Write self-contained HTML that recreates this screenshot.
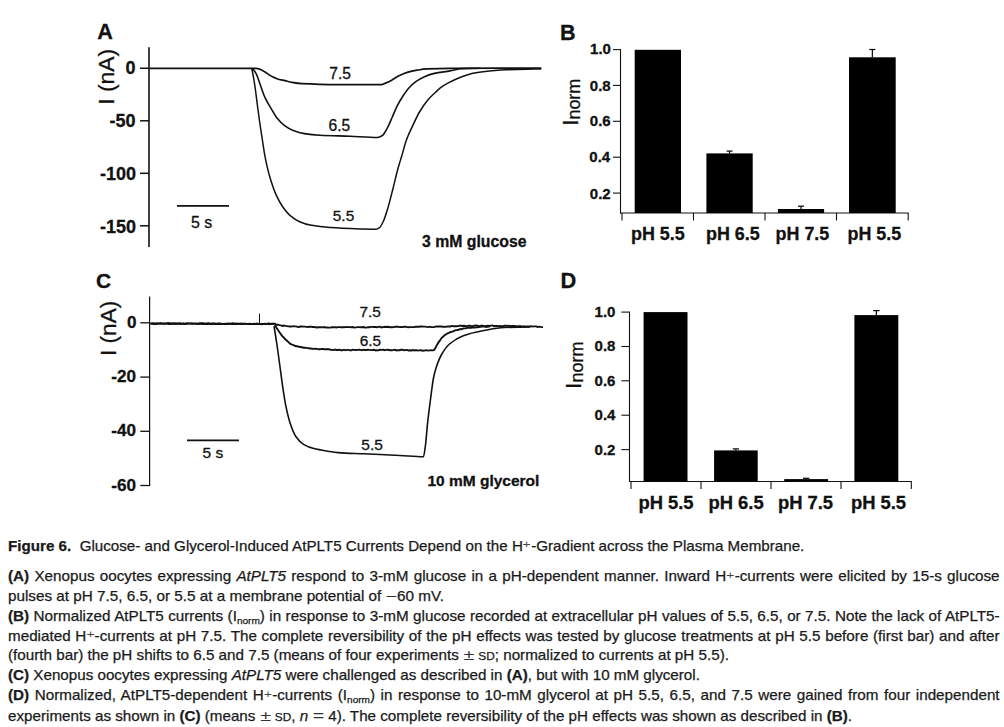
<!DOCTYPE html>
<html><head><meta charset="utf-8"><style>
html,body{margin:0;padding:0;background:#fff;}
body{width:1004px;height:727px;overflow:hidden;position:relative;font-family:"Liberation Sans",sans-serif;}
svg{position:absolute;left:0;top:0;}
svg text{font-family:"Liberation Sans",sans-serif;fill:#111;stroke:#111;stroke-width:0.3px;}
.ln{position:absolute;left:8.40px;font-size:14.40px;line-height:20px;height:20px;white-space:nowrap;color:#1a1a1a;transform-origin:0 0;-webkit-text-stroke:0.25px #1a1a1a;}
.ln.j{text-align:justify;text-align-last:justify;white-space:normal;}
.ln b{font-weight:bold;}
sup{font-size:70%;line-height:0;vertical-align:0;position:relative;top:-0.2em;display:inline-block;transform:scaleX(1.3);margin:0 1.2px 0 0.8px;-webkit-text-stroke:0;color:#444;}
sub{font-size:66%;line-height:0;vertical-align:0;position:relative;top:0.3em;}
.sc{font-size:78%;text-transform:uppercase;}
.m{display:inline-block;transform:scaleX(1.3);margin:0 1.25px;-webkit-text-stroke:0;color:#333;}
</style></head><body>
<svg width="1004" height="727" viewBox="0 0 1004 727">
<line x1="149.00" y1="47.30" x2="149.00" y2="247.00" stroke="#111" stroke-width="1.60"/>
<line x1="140.00" y1="68.25" x2="149.00" y2="68.25" stroke="#111" stroke-width="1.50"/>
<line x1="140.00" y1="120.80" x2="149.00" y2="120.80" stroke="#111" stroke-width="1.50"/>
<line x1="140.00" y1="173.30" x2="149.00" y2="173.30" stroke="#111" stroke-width="1.50"/>
<line x1="140.00" y1="225.80" x2="149.00" y2="225.80" stroke="#111" stroke-width="1.50"/>
<path d="M149.50 68.30 C183.67 68.30 217.83 68.30 252.00 68.30 C253.40 68.30 254.80 68.34 256.20 68.40 C256.97 68.43 257.73 68.62 258.50 68.80 C259.33 68.99 260.17 69.34 261.00 69.70 C262.33 70.28 263.67 71.17 265.00 72.00 C266.33 72.83 267.67 73.85 269.00 74.70 C270.33 75.55 271.67 76.46 273.00 77.10 C274.33 77.74 275.67 78.28 277.00 78.70 C279.67 79.54 282.33 80.04 285.00 80.70 C287.33 81.27 289.67 82.00 292.00 82.40 C295.33 82.97 298.67 83.51 302.00 83.70 C308.00 84.04 314.00 84.20 320.00 84.30 C330.00 84.46 340.00 84.60 350.00 84.60 C360.37 84.60 370.73 84.60 381.10 84.60 C382.77 84.60 384.43 83.57 386.10 82.90 C388.17 82.07 390.23 80.92 392.30 79.80 C394.37 78.68 396.43 77.14 398.50 76.10 C401.40 74.65 404.30 73.25 407.20 72.40 C410.50 71.43 413.80 70.74 417.10 70.20 C420.40 69.66 423.70 69.06 427.00 68.90 C434.67 68.53 442.33 68.32 450.00 68.30 C480.43 68.22 510.87 68.20 541.30 68.20" fill="none" stroke="#111" stroke-width="1.7"/>
<path d="M252.40 68.60 C253.63 69.45 254.87 71.39 256.10 73.60 C257.33 75.81 258.57 80.17 259.80 83.50 C261.47 87.99 263.13 93.46 264.80 97.10 C266.87 101.62 268.93 104.80 271.00 108.30 C273.07 111.80 275.13 115.64 277.20 118.20 C279.67 121.25 282.13 123.80 284.60 125.60 C287.47 127.70 290.33 129.42 293.20 130.50 C296.93 131.91 300.67 133.03 304.40 133.60 C309.60 134.40 314.80 134.90 320.00 135.20 C330.00 135.77 340.00 135.90 350.00 136.30 C359.13 136.67 368.27 137.50 377.40 137.50 C379.07 137.50 380.73 136.56 382.40 135.50 C384.03 134.46 385.67 131.03 387.30 128.10 C388.97 125.11 390.63 120.75 392.30 117.00 C393.93 113.32 395.57 109.01 397.20 105.80 C398.87 102.53 400.53 99.79 402.20 97.20 C404.27 93.99 406.33 90.81 408.40 88.50 C410.87 85.74 413.33 83.46 415.80 81.70 C418.70 79.64 421.60 77.93 424.50 76.70 C427.80 75.30 431.10 74.13 434.40 73.40 C439.60 72.24 444.80 71.82 450.00 70.90 C453.97 70.20 457.93 68.73 461.90 68.60 C467.93 68.40 473.97 68.30 480.00 68.30" fill="none" stroke="#111" stroke-width="1.6"/>
<path d="M251.80 68.60 C252.83 73.18 253.87 79.24 254.90 86.00 C255.70 91.23 256.50 98.46 257.30 104.50 C258.13 110.79 258.97 117.21 259.80 123.00 C260.67 129.02 261.53 134.33 262.40 140.00 C263.07 144.36 263.73 149.30 264.40 153.10 C265.27 158.04 266.13 162.38 267.00 166.10 C268.30 171.68 269.60 176.36 270.90 180.50 C272.63 186.02 274.37 191.10 276.10 194.90 C278.30 199.72 280.50 203.58 282.70 206.70 C285.30 210.39 287.90 213.63 290.50 215.80 C293.57 218.36 296.63 220.39 299.70 221.70 C303.17 223.18 306.63 224.33 310.10 225.00 C316.73 226.28 323.37 227.15 330.00 227.60 C340.00 228.27 350.00 228.59 360.00 228.90 C365.23 229.06 370.47 229.30 375.70 229.30 C377.00 229.30 378.30 228.50 379.60 227.60 C380.90 226.70 382.20 223.78 383.50 221.00 C384.83 218.14 386.17 213.67 387.50 209.30 C389.23 203.62 390.97 196.44 392.70 189.70 C394.43 182.96 396.17 175.12 397.90 168.80 C399.20 164.06 400.50 160.10 401.80 155.70 C403.33 150.51 404.87 144.23 406.40 140.00 C408.70 133.66 411.00 129.28 413.30 124.40 C415.37 120.02 417.43 115.53 419.50 112.00 C422.00 107.73 424.50 103.92 427.00 100.90 C429.87 97.44 432.73 94.97 435.60 92.20 C437.07 90.78 438.53 89.21 440.00 88.10 C442.93 85.88 445.87 84.27 448.80 82.70 C451.90 81.04 455.00 79.54 458.10 78.30 C463.03 76.33 467.97 74.31 472.90 73.30 C478.37 72.18 483.83 71.40 489.30 70.90 C494.77 70.40 500.23 70.02 505.70 69.80 C513.00 69.51 520.30 69.34 527.60 69.20 C532.17 69.12 536.73 69.04 541.30 69.00" fill="none" stroke="#111" stroke-width="1.5"/>
<line x1="177.00" y1="205.90" x2="229.00" y2="205.90" stroke="#111" stroke-width="1.90"/>
<line x1="620.50" y1="49.10" x2="620.50" y2="213.50" stroke="#111" stroke-width="1.10"/>
<line x1="613.00" y1="49.60" x2="620.50" y2="49.60" stroke="#111" stroke-width="1.10"/>
<line x1="613.00" y1="85.40" x2="620.50" y2="85.40" stroke="#111" stroke-width="1.10"/>
<line x1="613.00" y1="121.30" x2="620.50" y2="121.30" stroke="#111" stroke-width="1.10"/>
<line x1="613.00" y1="157.20" x2="620.50" y2="157.20" stroke="#111" stroke-width="1.10"/>
<line x1="613.00" y1="193.10" x2="620.50" y2="193.10" stroke="#111" stroke-width="1.10"/>
<line x1="620.00" y1="213.00" x2="908.70" y2="213.00" stroke="#111" stroke-width="1.10"/>
<line x1="622.00" y1="213.00" x2="622.00" y2="220.50" stroke="#111" stroke-width="1.10"/>
<line x1="693.50" y1="213.00" x2="693.50" y2="220.50" stroke="#111" stroke-width="1.10"/>
<line x1="765.00" y1="213.00" x2="765.00" y2="220.50" stroke="#111" stroke-width="1.10"/>
<line x1="836.50" y1="213.00" x2="836.50" y2="220.50" stroke="#111" stroke-width="1.10"/>
<line x1="908.20" y1="213.00" x2="908.20" y2="220.50" stroke="#111" stroke-width="1.10"/>
<rect x="634.70" y="49.80" width="46.30" height="163.20" fill="#000"/>
<rect x="706.40" y="153.40" width="46.30" height="59.60" fill="#000"/>
<line x1="729.55" y1="151.10" x2="729.55" y2="153.40" stroke="#000" stroke-width="1.20"/>
<line x1="726.55" y1="151.10" x2="732.55" y2="151.10" stroke="#000" stroke-width="1.20"/>
<rect x="777.90" y="209.00" width="46.20" height="4.00" fill="#000"/>
<line x1="801.00" y1="206.20" x2="801.00" y2="209.00" stroke="#000" stroke-width="1.20"/>
<line x1="798.00" y1="206.20" x2="804.00" y2="206.20" stroke="#000" stroke-width="1.20"/>
<rect x="849.00" y="57.30" width="46.70" height="155.70" fill="#000"/>
<line x1="872.35" y1="49.50" x2="872.35" y2="57.30" stroke="#000" stroke-width="1.20"/>
<line x1="869.35" y1="49.50" x2="875.35" y2="49.50" stroke="#000" stroke-width="1.20"/>
<line x1="149.60" y1="296.40" x2="149.60" y2="486.00" stroke="#111" stroke-width="1.20"/>
<line x1="140.30" y1="322.80" x2="149.60" y2="322.80" stroke="#111" stroke-width="1.30"/>
<line x1="140.30" y1="377.10" x2="149.60" y2="377.10" stroke="#111" stroke-width="1.30"/>
<line x1="140.30" y1="431.30" x2="149.60" y2="431.30" stroke="#111" stroke-width="1.30"/>
<line x1="140.30" y1="485.50" x2="149.60" y2="485.50" stroke="#111" stroke-width="1.30"/>
<path d="M150.5 323.6 L152.0 323.5 L153.5 323.4 L155.0 323.7 L156.5 323.3 L158.0 323.6 L159.5 323.5 L161.0 323.3 L162.5 323.6 L164.0 323.3 L165.5 323.6 L167.0 323.3 L168.5 323.3 L170.0 323.6 L171.5 323.8 L173.0 323.3 L174.5 323.4 L176.0 323.7 L177.5 323.9 L179.0 323.7 L180.5 323.5 L182.0 323.9 L183.5 323.3 L185.0 323.9 L186.5 323.5 L188.0 323.4 L189.5 323.4 L191.0 323.5 L192.5 323.8 L194.0 323.4 L195.5 323.7 L197.0 323.7 L198.5 323.5 L200.0 323.7 L201.5 323.3 L203.0 323.3 L204.5 323.4 L206.0 323.8 L207.5 323.6 L209.0 323.5 L210.5 323.7 L212.0 323.6 L213.5 323.5 L215.0 323.9 L216.5 323.8 L218.0 323.5 L219.5 323.7 L221.0 323.7 L222.5 324.0 L224.0 323.9 L225.5 323.6 L227.0 324.0 L228.5 323.4 L230.0 323.7 L231.5 323.9 L233.0 323.5 L234.5 323.7 L236.0 323.4 L237.5 323.9 L239.0 323.9 L240.5 323.8 L242.0 324.0 L243.5 323.7 L245.0 323.9 L246.5 323.9 L248.0 323.9 L249.5 323.8 L251.0 324.1 L252.5 324.1 L254.0 323.8 L255.5 324.0 L257.0 323.6 L258.5 324.0 L260.0 324.0 L261.5 324.2 L263.0 324.1 L264.5 323.8 L266.0 323.9 L267.5 324.1 L269.0 323.6 L270.5 323.9 L272.0 323.7 L273.5 323.7 L275.0 323.8 L276.5 324.7 L278.0 324.7 L279.5 325.1 L281.0 325.4 L282.5 325.9 L284.0 325.5 L285.5 325.9 L287.0 326.1 L288.5 326.4 L290.0 326.5 L291.5 326.6 L293.0 326.2 L294.5 326.4 L296.0 326.4 L297.5 326.9 L299.0 327.0 L300.5 326.4 L302.0 326.5 L303.5 326.6 L305.0 326.6 L306.5 326.9 L308.0 327.0 L309.5 326.8 L311.0 326.6 L312.5 327.0 L314.0 327.0 L315.5 327.2 L317.0 327.5 L318.5 327.3 L320.0 327.2 L321.5 327.3 L323.0 327.4 L324.5 327.0 L326.0 327.6 L327.5 327.5 L329.0 327.6 L330.5 327.6 L332.0 327.3 L333.5 327.3 L335.0 327.1 L336.5 327.5 L338.0 327.1 L339.5 327.1 L341.0 327.2 L342.5 327.2 L344.0 327.3 L345.5 327.1 L347.0 327.0 L348.5 327.1 L350.0 327.1 L351.5 327.3 L353.0 327.0 L354.5 327.6 L356.0 327.4 L357.5 327.1 L359.0 327.1 L360.5 327.2 L362.0 327.2 L363.5 327.0 L365.0 327.5 L366.5 327.6 L368.0 327.2 L369.5 327.2 L371.0 326.9 L372.5 326.9 L374.0 327.0 L375.5 327.0 L377.0 327.3 L378.5 326.9 L380.0 326.7 L381.5 327.4 L383.0 327.1 L384.5 326.8 L386.0 327.0 L387.5 326.7 L389.0 327.0 L390.5 327.3 L392.0 327.2 L393.5 327.1 L395.0 326.8 L396.5 326.8 L398.0 326.7 L399.5 327.1 L401.0 326.9 L402.5 327.1 L404.0 326.8 L405.5 326.7 L407.0 327.1 L408.5 327.2 L410.0 327.1 L411.5 327.1 L413.0 327.1 L414.5 327.0 L416.0 326.6 L417.5 326.8 L419.0 326.7 L420.5 326.5 L422.0 326.5 L423.5 326.6 L425.0 326.6 L426.5 326.9 L428.0 327.1 L429.5 326.7 L431.0 327.1 L432.5 327.1 L434.0 327.1 L435.5 326.6 L437.0 326.5 L438.5 326.5 L440.0 326.5 L441.5 326.5 L443.0 326.7 L444.5 326.9 L446.0 326.8 L447.5 326.4 L449.0 326.5 L450.5 326.5 L452.0 325.9 L453.5 326.2 L455.0 326.3 L456.5 326.2 L458.0 326.1 L459.5 325.8 L461.0 325.6 L462.5 326.0 L464.0 325.7 L465.5 326.0 L467.0 326.1 L468.5 325.7 L470.0 325.7 L471.5 326.1 L473.0 326.0 L474.5 325.6 L476.0 325.5 L477.5 325.6 L479.0 326.1 L480.5 326.0 L482.0 325.6 L483.5 326.0 L485.0 326.2 L486.5 325.9 L488.0 325.7 L489.5 325.9 L491.0 325.6 L492.5 325.5 L494.0 326.2 L495.5 326.0 L497.0 325.9 L498.5 326.2 L500.0 325.9 L501.5 326.2 L503.0 326.2 L504.5 325.8 L506.0 325.8 L507.5 325.9 L509.0 325.8 L510.5 326.1 L512.0 325.9 L513.5 326.0 L515.0 325.9 L516.5 326.4 L518.0 326.1 L519.5 326.2 L521.0 326.3 L522.5 326.6 L524.0 326.3 L525.5 326.7 L527.0 326.4 L528.5 326.5 L530.0 326.5 L531.5 326.2 L533.0 326.6 L534.5 326.4 L536.0 326.4 L537.5 327.0 L539.0 326.6 L540.5 326.9 L542.0 327.1 L543.0 327.0" fill="none" stroke="#111" stroke-width="1.9"/>
<path d="M275.0 325.0 L276.5 327.7 L278.0 329.9 L279.5 332.3 L281.0 334.4 L282.5 336.4 L284.0 337.7 L285.5 339.6 L287.0 340.7 L288.5 342.1 L290.0 343.6 L291.5 344.3 L293.0 345.0 L294.5 345.6 L296.0 346.2 L297.5 346.3 L299.0 346.8 L300.5 347.0 L302.0 347.3 L303.5 347.7 L305.0 347.7 L306.5 347.9 L308.0 348.1 L309.5 348.5 L311.0 348.5 L312.5 348.8 L314.0 348.9 L315.5 348.6 L317.0 348.9 L318.5 349.3 L320.0 349.3 L321.5 348.9 L323.0 349.0 L324.5 349.3 L326.0 349.1 L327.5 349.3 L329.0 349.3 L330.5 349.8 L332.0 349.9 L333.5 350.1 L335.0 349.6 L336.5 350.0 L338.0 350.0 L339.5 349.7 L341.0 350.2 L342.5 350.3 L344.0 349.7 L345.5 350.3 L347.0 349.9 L348.5 349.9 L350.0 350.3 L351.5 350.2 L353.0 349.7 L354.5 349.9 L356.0 350.0 L357.5 349.9 L359.0 349.8 L360.5 349.9 L362.0 350.2 L363.5 349.7 L365.0 350.0 L366.5 350.0 L368.0 349.7 L369.5 349.9 L371.0 350.1 L372.5 350.0 L374.0 349.7 L375.5 350.4 L377.0 350.2 L378.5 350.4 L380.0 349.8 L381.5 349.9 L383.0 349.7 L384.5 350.2 L386.0 349.9 L387.5 349.8 L389.0 350.0 L390.5 350.3 L392.0 350.3 L393.5 349.9 L395.0 349.8 L396.5 350.4 L398.0 350.1 L399.5 350.2 L401.0 349.8 L402.5 349.8 L404.0 350.3 L405.5 350.1 L407.0 349.9 L408.5 350.5 L410.0 350.3 L411.5 350.5 L413.0 350.0 L414.5 350.6 L416.0 350.1 L417.5 350.6 L419.0 350.4 L420.5 350.3 L422.0 350.5 L423.5 350.8 L425.0 350.4 L426.5 350.3 L428.0 350.6 L429.5 350.4 L431.0 350.3 L432.5 350.4 L434.0 350.1 L435.5 347.8 L437.0 344.9 L438.5 342.4 L440.0 340.4 L441.5 338.1 L443.0 336.8 L444.5 335.3 L446.0 334.4 L447.5 333.3 L449.0 332.8 L450.5 331.9 L452.0 331.9 L453.5 331.2 L455.0 330.4 L456.5 330.1 L458.0 330.0 L459.5 329.1 L461.0 329.2 L462.5 328.7 L464.0 328.4 L465.5 328.4 L467.0 327.9 L468.5 327.8 L470.0 327.7 L471.5 327.8 L473.0 327.3 L474.5 327.6 L476.0 327.4 L477.5 327.2 L479.0 327.0 L480.5 326.9 L482.0 326.6 L483.5 326.6 L485.0 326.6 L486.5 327.0 L488.0 326.6 L489.5 326.6 L490.0 326.8" fill="none" stroke="#111" stroke-width="1.9"/>
<path d="M274.00 326.00 C275.00 331.85 276.00 338.22 277.00 345.00 C278.00 351.78 279.00 359.60 280.00 366.90 C281.00 374.20 282.00 382.23 283.00 388.80 C284.00 395.37 285.00 401.87 286.00 406.70 C287.33 413.15 288.67 418.70 290.00 422.70 C292.00 428.70 294.00 433.85 296.00 436.70 C298.63 440.46 301.27 443.07 303.90 444.60 C307.23 446.54 310.57 447.73 313.90 448.60 C318.53 449.80 323.17 450.47 327.80 451.20 C331.20 451.73 334.60 452.35 338.00 452.60 C346.60 453.24 355.20 453.40 363.80 453.80 C375.87 454.36 387.93 454.88 400.00 455.50 C407.80 455.90 415.60 456.80 423.40 456.80 C424.10 456.80 424.80 450.15 425.50 445.00 C426.17 440.09 426.83 430.05 427.50 423.80 C428.17 417.55 428.83 412.36 429.50 407.00 C430.20 401.37 430.90 395.83 431.60 390.80 C432.23 386.25 432.87 381.21 433.50 378.00 C434.27 374.12 435.03 371.24 435.80 368.80 C437.63 362.96 439.47 358.27 441.30 355.00 C444.03 350.12 446.77 346.33 449.50 344.00 C454.10 340.08 458.70 337.50 463.30 335.80 C469.70 333.43 476.10 332.03 482.50 330.80 C489.83 329.40 497.17 327.76 504.50 327.50 C513.00 327.20 521.50 327.00 530.00 327.00" fill="none" stroke="#111" stroke-width="1.6"/>
<path d="M150.5 323.9 L152.0 323.6 L153.5 324.2 L155.0 324.2 L156.5 324.1 L158.0 323.7 L159.5 323.7 L161.0 323.8 L162.5 323.9 L164.0 323.7 L165.5 323.9 L167.0 323.8 L168.5 324.3 L170.0 324.3 L171.5 324.0 L173.0 323.8 L174.5 324.3 L176.0 323.8 L177.5 323.9 L179.0 323.6 L180.5 323.9 L182.0 324.0 L183.5 324.0 L185.0 323.7 L186.5 324.0 L188.0 323.6 L189.5 323.8 L191.0 323.7 L192.5 323.9 L194.0 323.6 L195.5 323.6 L197.0 323.9 L198.5 323.8 L200.0 324.1 L201.5 324.0 L203.0 324.2 L204.5 324.2 L206.0 324.2 L207.5 324.3 L209.0 324.0 L210.5 323.9 L212.0 324.4 L213.5 323.8 L215.0 324.2 L216.5 324.2 L218.0 323.7 L219.5 324.3 L221.0 324.4 L222.5 324.2 L224.0 324.3 L225.5 324.3 L227.0 323.8 L228.5 324.1 L230.0 324.1 L231.5 324.4 L233.0 324.3 L234.5 324.4 L236.0 324.2 L237.5 324.4 L239.0 324.3 L240.5 324.3 L242.0 323.9 L243.5 323.8 L245.0 323.8 L246.5 324.0 L248.0 323.8 L249.5 324.4 L251.0 324.2 L252.5 324.2 L254.0 324.3 L255.5 324.3 L257.0 324.2 L258.5 323.8 L260.0 324.4 L261.5 324.4 L263.0 324.2 L264.5 324.2 L266.0 324.3 L267.5 323.8 L269.0 324.4 L270.5 324.0 L272.0 323.9 L273.5 324.0 L274.0 324.2" fill="none" stroke="#111" stroke-width="1.4"/>
<path d="M150.5 323.3 L152.0 323.5 L153.5 323.1 L155.0 323.5 L156.5 323.7 L158.0 323.3 L159.5 323.2 L161.0 323.3 L162.5 323.5 L164.0 323.6 L165.5 323.5 L167.0 323.5 L168.5 323.0 L170.0 323.1 L171.5 323.2 L173.0 323.6 L174.5 323.2 L176.0 323.5 L177.5 323.0 L179.0 323.1 L180.5 323.2 L182.0 323.6 L183.5 323.6 L185.0 323.6 L186.5 323.3 L188.0 323.5 L189.5 323.4 L191.0 323.4 L192.5 323.2 L194.0 323.8 L195.5 323.2 L197.0 323.9 L198.5 323.8 L200.0 323.1 L201.5 323.5 L203.0 323.8 L204.5 323.9 L206.0 323.5 L207.5 323.3 L209.0 323.3 L210.5 323.9 L212.0 323.3 L213.5 323.6 L215.0 323.3 L216.5 323.6 L218.0 323.9 L219.5 323.3 L221.0 323.8 L222.5 323.6 L224.0 323.9 L225.5 323.8 L227.0 323.4 L228.5 323.9 L230.0 323.6 L231.5 323.2 L233.0 323.2 L234.5 323.6 L236.0 323.6 L237.5 323.5 L239.0 323.4 L240.5 323.5 L242.0 323.5 L243.5 323.9 L245.0 323.3 L246.5 323.9 L248.0 324.0 L249.5 323.4 L251.0 324.0 L252.5 323.9 L254.0 324.0 L255.5 323.6 L257.0 323.6 L258.5 323.7 L260.0 324.1 L261.5 323.8 L263.0 323.6 L264.5 323.7 L266.0 323.6 L267.5 323.4 L269.0 323.5 L270.5 324.1 L272.0 323.6 L273.5 324.1 L274.0 323.8" fill="none" stroke="#111" stroke-width="1.4"/>
<line x1="259.50" y1="313.60" x2="259.50" y2="324.00" stroke="#111" stroke-width="1.00"/>
<line x1="187.00" y1="440.40" x2="239.00" y2="440.40" stroke="#111" stroke-width="1.60"/>
<line x1="629.50" y1="311.60" x2="629.50" y2="482.00" stroke="#111" stroke-width="1.10"/>
<line x1="621.40" y1="312.10" x2="629.50" y2="312.10" stroke="#111" stroke-width="1.10"/>
<line x1="621.40" y1="346.50" x2="629.50" y2="346.50" stroke="#111" stroke-width="1.10"/>
<line x1="621.40" y1="380.80" x2="629.50" y2="380.80" stroke="#111" stroke-width="1.10"/>
<line x1="621.40" y1="415.20" x2="629.50" y2="415.20" stroke="#111" stroke-width="1.10"/>
<line x1="621.40" y1="449.60" x2="629.50" y2="449.60" stroke="#111" stroke-width="1.10"/>
<line x1="629.00" y1="481.50" x2="911.80" y2="481.50" stroke="#111" stroke-width="1.10"/>
<line x1="631.00" y1="481.50" x2="631.00" y2="489.00" stroke="#111" stroke-width="1.10"/>
<line x1="701.00" y1="481.50" x2="701.00" y2="489.00" stroke="#111" stroke-width="1.10"/>
<line x1="771.00" y1="481.50" x2="771.00" y2="489.00" stroke="#111" stroke-width="1.10"/>
<line x1="841.00" y1="481.50" x2="841.00" y2="489.00" stroke="#111" stroke-width="1.10"/>
<line x1="911.30" y1="481.50" x2="911.30" y2="489.00" stroke="#111" stroke-width="1.10"/>
<rect x="643.60" y="312.10" width="43.90" height="169.40" fill="#000"/>
<rect x="714.10" y="450.40" width="43.60" height="31.10" fill="#000"/>
<line x1="735.90" y1="448.90" x2="735.90" y2="450.40" stroke="#000" stroke-width="1.20"/>
<line x1="732.70" y1="448.90" x2="739.10" y2="448.90" stroke="#000" stroke-width="1.20"/>
<rect x="784.20" y="479.10" width="43.90" height="2.40" fill="#000"/>
<line x1="806.15" y1="478.30" x2="806.15" y2="479.10" stroke="#000" stroke-width="1.20"/>
<line x1="802.95" y1="478.30" x2="809.35" y2="478.30" stroke="#000" stroke-width="1.20"/>
<rect x="854.40" y="315.10" width="43.90" height="166.40" fill="#000"/>
<line x1="876.35" y1="310.60" x2="876.35" y2="315.10" stroke="#000" stroke-width="1.20"/>
<line x1="873.15" y1="310.60" x2="879.55" y2="310.60" stroke="#000" stroke-width="1.20"/>
<text id="A_lbl" transform="translate(97.20,38.70)" font-size="21.70" font-weight="bold">A</text>
<text id="A_0" transform="translate(125.40,74.10)" font-size="18.00" font-weight="bold">0</text>
<text id="A_m50" transform="translate(109.60,127.00)" font-size="18.00" font-weight="bold">-50</text>
<text id="A_m100" transform="translate(99.90,180.20)" font-size="18.00" font-weight="bold">-100</text>
<text id="A_m150" transform="translate(99.90,232.90)" font-size="18.00" font-weight="bold">-150</text>
<text id="A_ylab" transform="translate(114.10,104.70) rotate(-90)" font-size="22.80" font-weight="normal">I (nA)</text>
<text id="A_75" transform="translate(329.30,79.40)" font-size="15.60" font-weight="normal">7.5</text>
<text id="A_65" transform="translate(328.60,131.20)" font-size="15.60" font-weight="normal">6.5</text>
<text id="A_55" transform="translate(332.80,221.40)" font-size="15.40" font-weight="normal">5.5</text>
<text id="A_5s" transform="translate(191.10,227.70)" font-size="15.90" font-weight="normal">5 s</text>
<text id="A_gluc" transform="translate(422.00,246.70)" font-size="15.80" font-weight="bold">3 mM glucose</text>
<text id="B_lbl" transform="translate(560.10,40.20)" font-size="21.60" font-weight="bold">B</text>
<text id="B_10" transform="translate(590.10,53.80)" font-size="15.00" font-weight="bold">1.0</text>
<text id="B_08" transform="translate(589.80,90.60)" font-size="15.00" font-weight="bold">0.8</text>
<text id="B_06" transform="translate(589.80,125.90)" font-size="15.00" font-weight="bold">0.6</text>
<text id="B_04" transform="translate(589.30,162.20)" font-size="15.00" font-weight="bold">0.4</text>
<text id="B_02" transform="translate(589.80,198.50)" font-size="15.00" font-weight="bold">0.2</text>
<text id="B_ylab" transform="translate(578.00,125.80) rotate(-90)" font-size="22.40" font-weight="normal">I<tspan font-size="0.8em" dy="1.7">norm</tspan></text>
<text id="B_x1" transform="translate(631.00,239.55)" font-size="17.90" font-weight="bold">pH 5.5</text>
<text id="B_x2" transform="translate(706.00,239.55)" font-size="17.90" font-weight="bold">pH 6.5</text>
<text id="B_x3" transform="translate(775.60,239.55)" font-size="17.90" font-weight="bold">pH 7.5</text>
<text id="B_x4" transform="translate(847.50,239.55)" font-size="17.90" font-weight="bold">pH 5.5</text>
<text id="C_lbl" transform="translate(96.00,288.40)" font-size="21.00" font-weight="bold">C</text>
<text id="C_0" transform="translate(127.10,328.20)" font-size="17.10" font-weight="bold">0</text>
<text id="C_m20" transform="translate(111.20,381.70)" font-size="17.10" font-weight="bold">-20</text>
<text id="C_m40" transform="translate(111.20,436.10)" font-size="17.10" font-weight="bold">-40</text>
<text id="C_m60" transform="translate(111.20,490.50)" font-size="17.10" font-weight="bold">-60</text>
<text id="C_ylab" transform="translate(116.20,356.00) rotate(-90)" font-size="22.60" font-weight="normal">I (nA)</text>
<text id="C_75" transform="translate(359.50,317.20)" font-size="15.40" font-weight="normal">7.5</text>
<text id="C_65" transform="translate(359.70,346.20)" font-size="15.40" font-weight="normal">6.5</text>
<text id="C_55" transform="translate(361.30,449.70)" font-size="15.50" font-weight="normal">5.5</text>
<text id="C_5s" transform="translate(202.60,458.40)" font-size="15.50" font-weight="normal">5 s</text>
<text id="C_glyc" transform="translate(427.40,485.70)" font-size="15.50" font-weight="bold">10 mM glycerol</text>
<text id="D_lbl" transform="translate(560.50,287.80)" font-size="21.80" font-weight="bold">D</text>
<text id="D_10" transform="translate(594.60,317.20)" font-size="15.00" font-weight="bold">1.0</text>
<text id="D_08" transform="translate(594.60,351.00)" font-size="15.00" font-weight="bold">0.8</text>
<text id="D_06" transform="translate(594.60,386.10)" font-size="15.00" font-weight="bold">0.6</text>
<text id="D_04" transform="translate(594.60,419.90)" font-size="15.00" font-weight="bold">0.4</text>
<text id="D_02" transform="translate(594.60,454.70)" font-size="15.00" font-weight="bold">0.2</text>
<text id="D_ylab" transform="translate(581.30,388.90) rotate(-90)" font-size="22.60" font-weight="normal">I<tspan font-size="0.8em" dy="1.7">norm</tspan></text>
<text id="D_x1" transform="translate(638.40,509.30)" font-size="18.40" font-weight="bold">pH 5.5</text>
<text id="D_x2" transform="translate(708.50,509.30)" font-size="18.40" font-weight="bold">pH 6.5</text>
<text id="D_x3" transform="translate(777.90,509.30)" font-size="18.40" font-weight="bold">pH 7.5</text>
<text id="D_x4" transform="translate(850.90,509.30)" font-size="18.40" font-weight="bold">pH 5.5</text>
</svg>
<div class="ln" style="top:535.50px;transform:scaleX(1.0540)"><b>Figure 6.</b>&nbsp; Glucose- and Glycerol-Induced AtPLT5 Currents Depend on the H<sup>+</sup>-Gradient across the Plasma Membrane.</div>
<div class="ln j" style="top:565.61px;width:937.68px;transform:scaleX(1.0575)"><b>(A)</b> Xenopus oocytes expressing <i>AtPLT5</i> respond to 3-mM glucose in a pH-dependent manner. Inward H<sup>+</sup>-currents were elicited by 15-s glucose</div>
<div class="ln" style="top:585.60px;transform:scaleX(1.0606)">pulses at pH 7.5, 6.5, or 5.5 at a membrane potential of <span class="m">−</span>60 mV.</div>
<div class="ln j" style="top:605.71px;width:937.68px;transform:scaleX(1.0575)"><b>(B)</b> Normalized AtPLT5 currents (I<sub>norm</sub>) in response to 3-mM glucose recorded at extracellular pH values of 5.5, 6.5, or 7.5. Note the lack of AtPLT5-</div>
<div class="ln j" style="top:625.50px;width:937.68px;transform:scaleX(1.0575)">mediated H<sup>+</sup>-currents at pH 7.5. The complete reversibility of the pH effects was tested by glucose treatments at pH 5.5 before (first bar) and after</div>
<div class="ln" style="top:645.41px;transform:scaleX(1.0573)">(fourth bar) the pH shifts to 6.5 and 7.5 (means of four experiments <span class="m">±</span> <span class="sc">sd</span>; normalized to currents at pH 5.5).</div>
<div class="ln" style="top:665.31px;transform:scaleX(1.0553)"><b>(C)</b> Xenopus oocytes expressing <i>AtPLT5</i> were challenged as described in <b>(A)</b>, but with 10 mM glycerol.</div>
<div class="ln j" style="top:685.41px;width:937.68px;transform:scaleX(1.0575)"><b>(D)</b> Normalized, AtPLT5-dependent H<sup>+</sup>-currents (I<sub>norm</sub>) in response to 10-mM glycerol at pH 5.5, 6.5, and 7.5 were gained from four independent</div>
<div class="ln" style="top:705.71px;transform:scaleX(1.0558)">experiments as shown in <b>(C)</b> (means <span class="m">±</span> <span class="sc">sd</span>, <i>n</i> <span class="m">=</span> 4). The complete reversibility of the pH effects was shown as described in <b>(B)</b>.</div>
</body></html>
